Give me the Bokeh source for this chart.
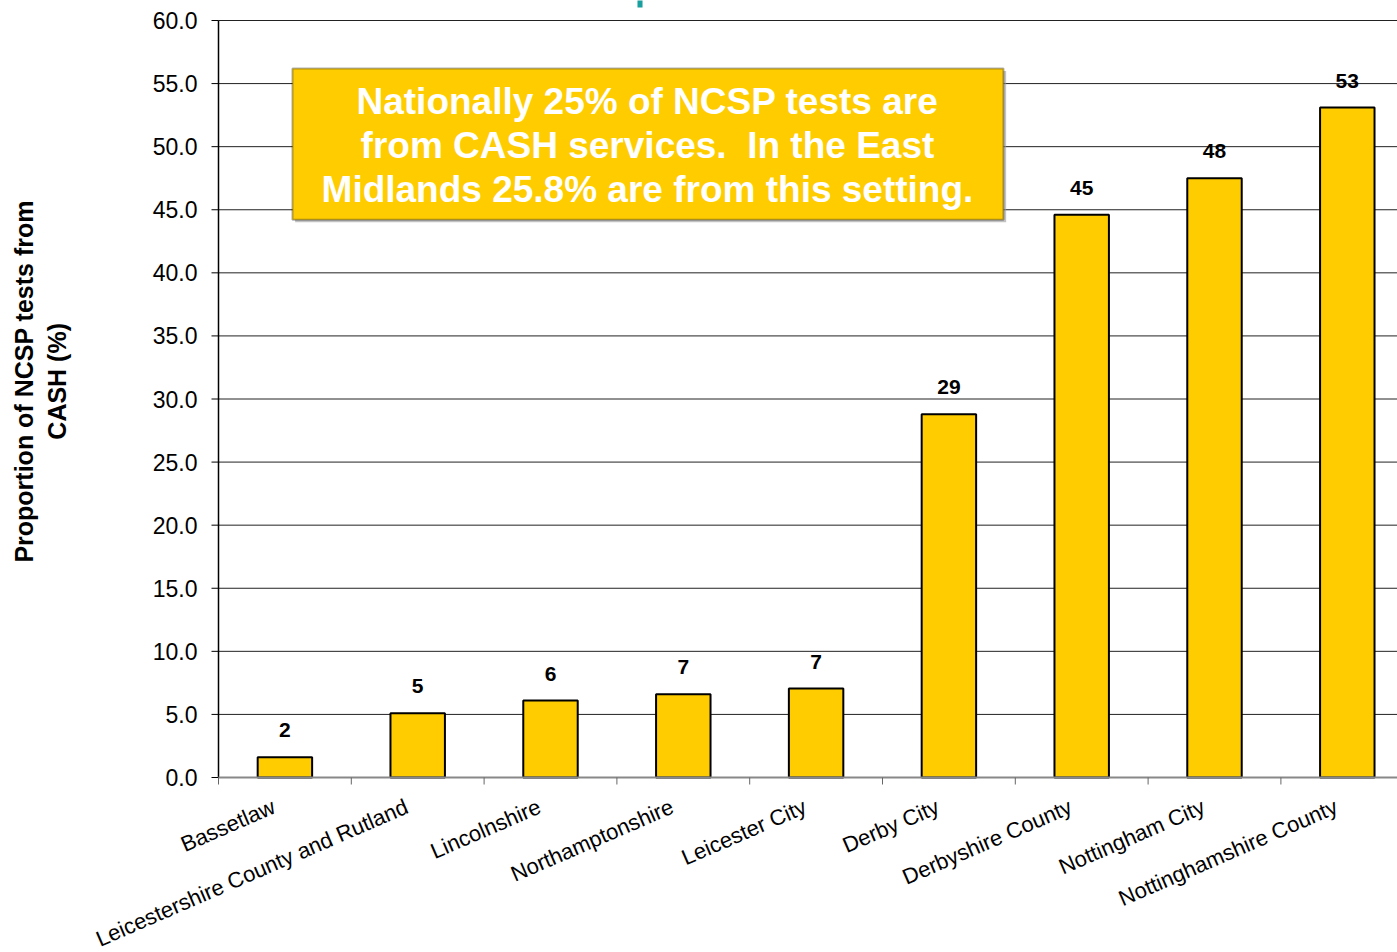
import math
from bokeh.plotting import figure
from bokeh.models import BoxAnnotation, Label, ColumnDataSource, Range1d
from bokeh.core.properties import value
from bokeh.embed import file_html
from bokeh.resources import INLINE

areas = ["Bassetlaw", "Leicestershire County and Rutland", "Lincolnshire",
         "Northamptonshire", "Leicester City", "Derby City", "Derbyshire County",
         "Nottingham City", "Nottinghamshire County"]
values = [1.6, 5.1, 6.1, 6.6, 7.05, 28.8, 44.6, 47.5, 53.1]
value_labels = ["2", "5", "6", "7", "7", "29", "45", "48", "53"]
y_ticks = [0, 5, 10, 15, 20, 25, 30, 35, 40, 45, 50, 55, 60]
y_title = ["Proportion of NCSP tests from", "CASH (%)"]
note_lines = ["Nationally 25% of NCSP tests are",
              "from CASH services.\u00a0 In the East",
              "Midlands 25.8% are from this setting."]

FONT = "Liberation Sans"
YELLOW = "#FFCC00"
PY = 757 / 60.0      # px per value unit
PX = 132.8           # px per category
X0 = -0.5            # left edge of the category axis
X_END = X0 + 1179 / PX

xs = list(range(len(areas)))
bounds = [i - 0.5 for i in range(len(areas) + 1)]
src = ColumnDataSource(dict(x=xs, top=values, lab=value_labels, name=areas))
tick_src = ColumnDataSource(dict(y=y_ticks, lab=["%.1f" % t for t in y_ticks]))

p = figure(width=1397, height=952, output_backend="svg", toolbar_location=None,
           x_range=Range1d(X0 - 218 / PX, X_END),
           y_range=Range1d(-175 / PY, 60 + 20 / PY),
           min_border=0)
p.outline_line_color = None
p.background_fill_color = "white"
p.xaxis.visible = False
p.yaxis.visible = False
p.xgrid.grid_line_color = None
p.ygrid.grid_line_color = None

# grid lines
p.segment(x0=X0, y0="y", x1=X_END, y1="y", source=tick_src,
          line_color="#222222", line_width=1)

# bars and value labels
p.vbar(x="x", top="top", width=0.41, source=src, fill_color=YELLOW,
       line_color="black", line_width=2)
p.text(x="x", y="top", text="lab", source=src, text_align="center",
       text_baseline="bottom", y_offset=-20, text_font=value(FONT),
       text_font_style="bold", text_font_size="21px", text_color="black")

# value axis
p.segment(x0=[X0], y0=[0], x1=[X0], y1=[60], line_color="black", line_width=1.5)
p.segment(x0=X0 - 7 / PX, y0="y", x1=X0, y1="y", source=tick_src,
          line_color="black", line_width=1)
p.text(x=X0, y="y", text="lab", source=tick_src, x_offset=-21,
       text_align="right", text_baseline="middle", text_font=value(FONT),
       text_font_size="23px", text_color="black")
p.text(x=[X0 - 195 / PX, X0 - 162 / PX], y=[31.4, 31.4], text=y_title,
       angle=math.pi / 2, text_align="center", text_baseline="middle",
       text_font=value(FONT), text_font_style="bold", text_font_size="25px",
       text_color="black")

# category axis
p.segment(x0=[X0], y0=[0], x1=[X_END], y1=[0], line_color="#888888", line_width=2)
p.segment(x0=bounds, y0=[0] * len(bounds), x1=bounds,
          y1=[-7 / PY] * len(bounds), line_color="#666666", line_width=1)
p.text(x="x", y=0, text="name", source=src, angle=0.41, x_offset=-11, y_offset=28,
       text_align="right", text_baseline="middle", text_font=value(FONT),
       text_font_size="22px", text_color="black")

# small teal mark at the top (cut-off title element)
p.quad(left=[2.655], right=[2.693], bottom=[60 + 13 / PY],
       top=[60 + 21 / PY], fill_color="#1A9E9E", line_color=None)

# annotation box
shadow = BoxAnnotation(left=0.077, right=5.431, bottom=44.0, top=56.0,
                       fill_color="#999999", fill_alpha=0.6, line_color=None, level="overlay")
box = BoxAnnotation(left=0.057, right=5.411, bottom=44.2, top=56.2,
                    fill_color=YELLOW, fill_alpha=1.0, line_color="black", line_width=2,
                    level="overlay")
p.add_layout(shadow)
p.add_layout(box)
for t, yy in zip(note_lines, [53.57, 50.08, 46.6]):
    p.add_layout(Label(x=2.73, y=yy, text=t, text_align="center",
                       text_baseline="middle", text_font=FONT, text_font_style="bold",
                       text_font_size="37px", text_color="white", level="overlay"))

open("out.html", "w").write(file_html(p, INLINE))
